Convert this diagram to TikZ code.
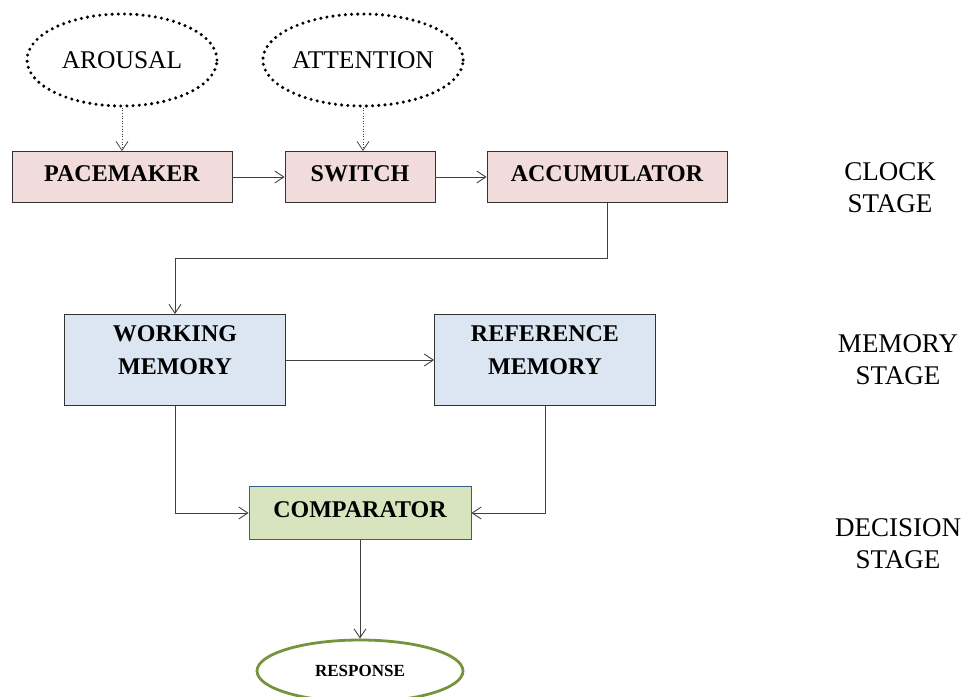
\documentclass[tikz,border=0pt]{standalone}
\usepackage{fontspec}
\setmainfont{Liberation Serif}
\usetikzlibrary{shapes.geometric,arrows.meta}
\definecolor{pinkfill}{HTML}{F2DCDB}
\definecolor{bluefill}{HTML}{DCE6F2}
\definecolor{greenfill}{HTML}{D7E4BD}
\definecolor{compborder}{HTML}{385D8A}
\definecolor{respborder}{HTML}{77933C}
\tikzset{
  box/.style={draw=black!80, line width=0.8pt, minimum height=51pt, font=\fontsize{24}{28}\selectfont\bfseries, inner sep=0pt, text depth=6pt, align=center},
  memb/.style={draw=black!80, line width=0.8pt, fill=bluefill, minimum height=91pt, minimum width=221pt, inner sep=0pt},
  memtext/.style={align=center, font=\fontsize{24}{33}\selectfont\bfseries, inner sep=0pt},
  dotell/.style={ellipse, draw, line width=3.4pt, dash pattern=on 0pt off 6.2pt, line cap=round, minimum width=190pt, minimum height=92pt, inner sep=0pt, font=\fontsize{25.5}{30}\selectfont},
  stage/.style={align=center, font=\fontsize{27}{32}\selectfont},
  conn/.style={draw=black!75, line width=0.8pt, -{Straight Barb[length=9pt,width=12pt,line width=0.9pt]}},
  dconn/.style={draw=black!75, line width=0.6pt, dotted, -{Straight Barb[length=9pt,width=12pt,line width=0.8pt]}}
}
\begin{document}
\begin{tikzpicture}[x=1pt,y=-1pt]
\useasboundingbox (0,0) rectangle (966,696);
\node[dotell] (arousal) at (122,60) {AROUSAL};
\node[dotell] (attention) at (363,60) {ATTENTION};
\node[box, fill=pinkfill, minimum width=220pt] (pace) at (122,177) {PACEMAKER};
\node[box, fill=pinkfill, minimum width=150pt] (switch) at (360,177) {SWITCH};
\node[box, fill=pinkfill, minimum width=240pt] (acc) at (607,177) {ACCUMULATOR};
\node[memb] (wm) at (175,360) {};
\node[memtext] (wmtext) at (175,350) {WORKING\\MEMORY};
\node[memb] (rm) at (545,360) {};
\node[memtext] (rmtext) at (545,350) {REFERENCE\\MEMORY};
\node[box, fill=greenfill, draw=compborder, minimum width=222pt, minimum height=53pt] (comp) at (360,513) {COMPARATOR};
\node[ellipse, draw=respborder, line width=2.8pt, minimum width=206pt, minimum height=62pt, inner sep=0pt, font=\fontsize{17}{20}\selectfont\bfseries] (resp) at (360,671) {RESPONSE};
\node[stage] (clock) at (890,188) {CLOCK\\STAGE};
\node[stage] (mem) at (898,360) {MEMORY\\STAGE};
\node[stage] (dec) at (898,544) {DECISION\\STAGE};
\draw[dconn] (arousal) -- (pace);
\draw[dconn] (attention.south) -- (attention.south |- switch.north);
\draw[conn] (pace) -- (switch);
\draw[conn] (switch) -- (acc);
\draw[conn] (acc.south) |- (175,258) -- (wm.north);
\draw[conn] (wm) -- (rm);
\draw[conn] (wm.south) |- (comp.west);
\draw[conn] (rm.south) |- (comp.east);
\draw[conn] (comp) -- (resp);
\end{tikzpicture}
\end{document}
